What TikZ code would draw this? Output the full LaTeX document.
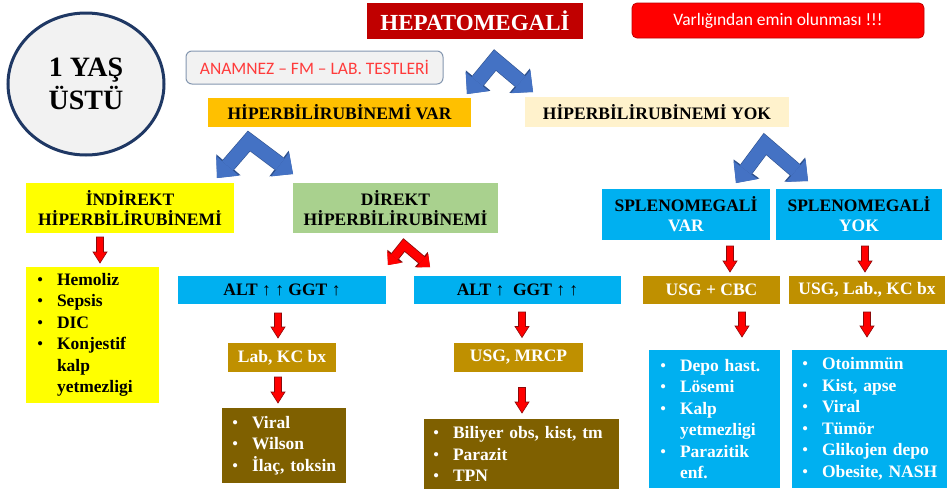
\documentclass[tikz,border=0pt]{standalone}
\usepackage{fontspec}
\setmainfont{Liberation Serif}
\newfontfamily\calib{Carlito}
\usetikzlibrary{shapes.geometric,arrows.meta,calc}
\setlength{\parindent}{0pt}
\definecolor{hepred}{HTML}{C00000}
\definecolor{pured}{HTML}{FF0000}
\definecolor{navy}{HTML}{1F3864}
\definecolor{grayf}{HTML}{F2F2F2}
\definecolor{slate}{HTML}{8497B0}
\definecolor{anamred}{HTML}{FF3B3B}
\definecolor{orange1}{HTML}{FFC000}
\definecolor{beige}{HTML}{FFF2CC}
\definecolor{yel}{HTML}{FFFF00}
\definecolor{green1}{HTML}{A9D18E}
\definecolor{cyan1}{HTML}{00B0F0}
\definecolor{gold}{HTML}{BF9000}
\definecolor{brown1}{HTML}{7F6000}
\definecolor{chevblue}{HTML}{4472C4}
\definecolor{chevdark}{HTML}{2F528F}
\definecolor{darkred}{HTML}{8B0A0A}
\newcommand\myli[1]{\makebox[20pt][l]{\mdseries\textbullet}\mbox{#1}}
\newcommand\mylc[1]{\hspace*{20pt}\mbox{#1}}
\begin{document}
\begin{tikzpicture}[x=1pt,y=-1pt,
  every node/.style={inner sep=0pt, outer sep=0pt},
  bx/.style={rectangle, align=center, font=\bfseries\fontsize{17.5}{20}\selectfont},
  sz/.style 2 args={minimum width=#1pt, minimum height=#2pt},
  lst/.style={rectangle, align=left, inner ysep=0pt, font=\bfseries\fontsize{17.5}{21.5}\selectfont},
  bchevo/.style={draw=chevdark, line width=15.2pt, line join=miter,
    arrows={Triangle[width=32pt,length=17.5pt,line width=0pt]-Triangle[width=32pt,length=17.5pt,line width=0pt]}},
  bchev/.style={draw=chevblue, line width=14pt, line join=miter,
    arrows={Triangle[width=30pt,length=16pt,line width=0pt]-Triangle[width=30pt,length=16pt,line width=0pt]}},
  rchevo/.style={draw=darkred, line width=9.6pt, line join=miter,
    arrows={Triangle[width=20pt,length=11.5pt,line width=0pt]-Triangle[width=20pt,length=11.5pt,line width=0pt]}},
  rchev/.style={draw=pured, line width=8pt, line join=miter,
    arrows={Triangle[width=18pt,length=10pt,line width=0pt]-Triangle[width=18pt,length=10pt,line width=0pt]}},
  rarrow/.style={draw=darkred, fill=pured, line width=0.6pt, line join=miter,
    to path={let \p1=(\tikztostart), \p2=(\tikztotarget) in
      (\x1-3.5pt,\y1) -- (\x1+3.5pt,\y1) -- (\x1+3.5pt,\y2+11pt) -- (\x1+7pt,\y2+11pt)
      -- (\x1,\y2) -- (\x1-7pt,\y2+11pt) -- (\x1-3.5pt,\y2+11pt) -- cycle}}
]
\fill[white] (0,0) rectangle (947,493);
\useasboundingbox (0,0) rectangle (947,493);

% top row
\node[ellipse, draw=navy, line width=3pt, fill=grayf, minimum width=156pt, minimum height=142pt,
  align=center, font=\bfseries\fontsize{28}{33}\selectfont] (age) at (86,84) {1 YAŞ\\ÜSTÜ};
\node[bx, sz={216}{36}, fill=hepred, text=white, font=\bfseries\fontsize{23}{26}\selectfont] (hep) at (475,21) {HEPATOMEGALİ};
\node[rectangle, rounded corners=5pt, sz={292}{35}, fill=pured, draw=hepred, line width=0.8pt,
  text=white, font=\calib\fontsize{17.5}{20}\selectfont] (varlik) at (778,20.5) {Varlığından emin olunması !!!};
\node[rectangle, rounded corners=6pt, sz={257}{33}, fill=grayf, draw=slate, line width=1pt,
  text=anamred, font=\calib\fontsize{17.5}{20}\selectfont] (anam) at (314.5,67.5) {ANAMNEZ – FM – LAB. TESTLERİ};

\node[bx, sz={263}{29}, fill=orange1] (hvar) at (339.5,112.5) {HİPERBİLİRUBİNEMİ VAR};
\node[bx, sz={264}{30}, fill=beige] (hyok) at (657,112) {HİPERBİLİRUBİNEMİ YOK};

% second row
\node[bx, sz={208}{50}, fill=yel] (ind) at (130,208) {İNDİREKT\\HİPERBİLİRUBİNEMİ};
\node[bx, sz={205}{50}, fill=green1] (dir) at (395.5,208) {DİREKT\\HİPERBİLİRUBİNEMİ};
\node[bx, sz={168}{51}, fill=cyan1] (svar) at (686,214.5) {SPLENOMEGALİ\\\textcolor{white}{VAR}};
\node[bx, sz={166}{51}, fill=cyan1] (syok) at (859,214.5) {SPLENOMEGALİ\\\textcolor{white}{YOK}};

% third row
\node[bx, sz={208}{28}, fill=cyan1] (alt1) at (282,290) {ALT ↑ ↑ GGT ↑};
\node[bx, sz={207}{28}, fill=cyan1] (alt2) at (517.5,290) {ALT ↑\ \ GGT ↑ ↑};
\node[bx, sz={137}{28}, fill=gold, text=white] (usgcbc) at (711.5,290) {USG + CBC};
\node[bx, sz={156}{28}, fill=gold, text=white] (usglab) at (867,290) {USG, Lab., KC bx};
\node[bx, sz={108}{29}, fill=gold, text=white] (labkc) at (282,357.5) {Lab, KC bx};
\node[bx, sz={129}{29}, fill=gold, text=white] (usgmr) at (518.5,357) {USG, MRCP};

% lists
\node[lst, fill=yel, inner xsep=11pt, text width=111pt, minimum height=136pt] (hem) at (92.5,335)
  {\myli{Hemoliz}\\\myli{Sepsis}\\\myli{DIC}\\\myli{Konjestif}\\\mylc{kalp}\\\mylc{yetmezligi}};
\node[lst, fill=brown1, text=white, inner xsep=10pt, text width=104pt, minimum height=75pt] (viral) at (284,445.5)
  {\myli{Viral}\\\myli{Wilson}\\\myli{İlaç, toksin}};
\node[lst, fill=brown1, text=white, inner xsep=9pt, text width=177pt, minimum height=70pt] (bil) at (521.5,454)
  {\myli{Biliyer obs, kist, tm}\\\myli{Parazit}\\\myli{TPN}};
\node[lst, fill=cyan1, text=white, inner xsep=11pt, text width=109pt, minimum height=138pt] (dep) at (714.5,419)
  {\myli{Depo hast.}\\\myli{Lösemi}\\\myli{Kalp}\\\mylc{yetmezligi}\\\myli{Parazitik}\\\mylc{enf.}};
\node[lst, fill=cyan1, text=white, inner xsep=10pt, text width=135pt, minimum height=138pt] (oto) at (869.5,419)
  {\myli{Otoimmün}\\\myli{Kist, apse}\\\myli{Viral}\\\myli{Tümör}\\\myli{Glikojen depo}\\\myli{Obesite, NASH}};

% chevron connectors
\coordinate (c1l) at (467,94);  \coordinate (c1p) at (495,60);  \coordinate (c1r) at (533,92);
\coordinate (c2l) at (217,178); \coordinate (c2p) at (249,141); \coordinate (c2r) at (293,174);
\coordinate (c3l) at (736,183); \coordinate (c3p) at (765,144); \coordinate (c3r) at (808,181);
\coordinate (c4l) at (388,265); \coordinate (c4p) at (404,245); \coordinate (c4r) at (430,267);
\foreach \a in {1,2,3}{
  \draw[bchevo] (c\a l) -- (c\a p) -- (c\a r);
  \draw[bchev] (c\a l) -- (c\a p) -- (c\a r);
}
\draw[rchevo] (c4l) -- (c4p) -- (c4r);
\draw[rchev] (c4l) -- (c4p) -- (c4r);

% red down arrows
\draw[rarrow] ([xshift=-30pt,yshift=-4pt]ind.south) to ([yshift=4pt]hem.north);
\draw[rarrow] ([xshift=-4pt,yshift=-9pt]alt1.south) to ([yshift=5pt]labkc.north);
\draw[rarrow] ([xshift=-4pt,yshift=-5pt]labkc.south) to ([yshift=5pt]viral.north);
\draw[rarrow] ([xshift=4.5pt,yshift=-8pt]alt2.south) to ([yshift=5pt]usgmr.north);
\draw[rarrow] ([xshift=3.5pt,yshift=-16pt]usgmr.south) to ([yshift=6pt]bil.north);
\draw[rarrow] ([xshift=44pt,yshift=-6pt]svar.south) to ([yshift=4pt]usgcbc.north);
\draw[rarrow] ([xshift=6pt,yshift=-6pt]syok.south) to ([yshift=4pt]usglab.north);
\draw[rarrow] ([xshift=30.5pt,yshift=-8pt]usgcbc.south) to ([yshift=13pt]dep.north);
\draw[rarrow] ([yshift=-8pt]usglab.south) to ([yshift=13pt]oto.north);
\end{tikzpicture}
\end{document}
